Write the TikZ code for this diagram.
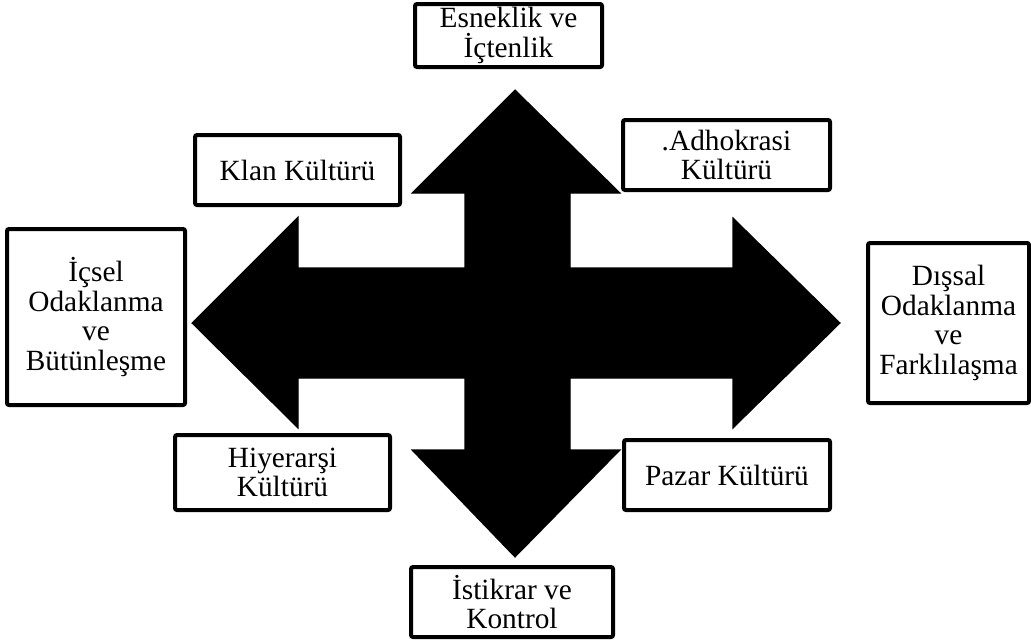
\documentclass[tikz,border=0pt]{standalone}
\usepackage{fontspec}
\setmainfont{Liberation Serif}
\tikzset{
  lbl/.style={draw=black, line width=3pt, rounded corners=1.5pt, fill=white, inner sep=0pt,
    align=center, font=\fontsize{22}{22.2}\selectfont},
  bigarrow/.style={fill=black, draw=black, line width=0.8pt, line join=miter}
}
\begin{document}
\begin{tikzpicture}[x=0.75pt,y=-0.75pt]
\useasboundingbox (0,0) rectangle (1031,639);
% four-headed arrow
\path[bigarrow] (515,90) -- (620,193) -- (570,193) -- (570,268) -- (733,268) -- (733,218)
  -- (840,323) -- (733,428) -- (733,378) -- (570,378) -- (570,450) -- (620,450)
  -- (515,557) -- (412,450) -- (465,450) -- (465,378) -- (298,378) -- (298,428)
  -- (192,323) -- (298,217) -- (298,268) -- (465,268) -- (465,193) -- (412,193) -- cycle;
% boxes
\node[lbl, minimum width=140.25pt, minimum height=47.25pt] (top) at (508.5,35.5) {Esneklik ve\\İçtenlik};
\node[lbl, minimum width=153.75pt, minimum height=52.5pt] (klan) at (297.5,170) {Klan Kültürü};
\node[lbl, minimum width=155.25pt, minimum height=52.5pt] (adho) at (726.5,155) {.Adhokrasi\\Kültürü};
\node[lbl, minimum width=133.5pt, minimum height=132pt] (left) at (96,317) {İçsel\\Odaklanma\\ve\\Bütünleşme};
\node[lbl, minimum width=120.75pt, minimum height=120pt] (right) at (948.5,323) {Dışsal\\Odaklanma\\ve\\Farklılaşma};
\node[lbl, minimum width=161.25pt, minimum height=56.25pt] (hiy) at (282.5,472.5) {Hiyerarşi\\Kültürü};
\node[lbl, minimum width=154.5pt, minimum height=52.5pt] (pazar) at (727,475) {Pazar Kültürü};
\node[lbl, minimum width=151.5pt, minimum height=52.5pt] (bottom) at (512,602) {İstikrar ve\\Kontrol};
\end{tikzpicture}
\end{document}
